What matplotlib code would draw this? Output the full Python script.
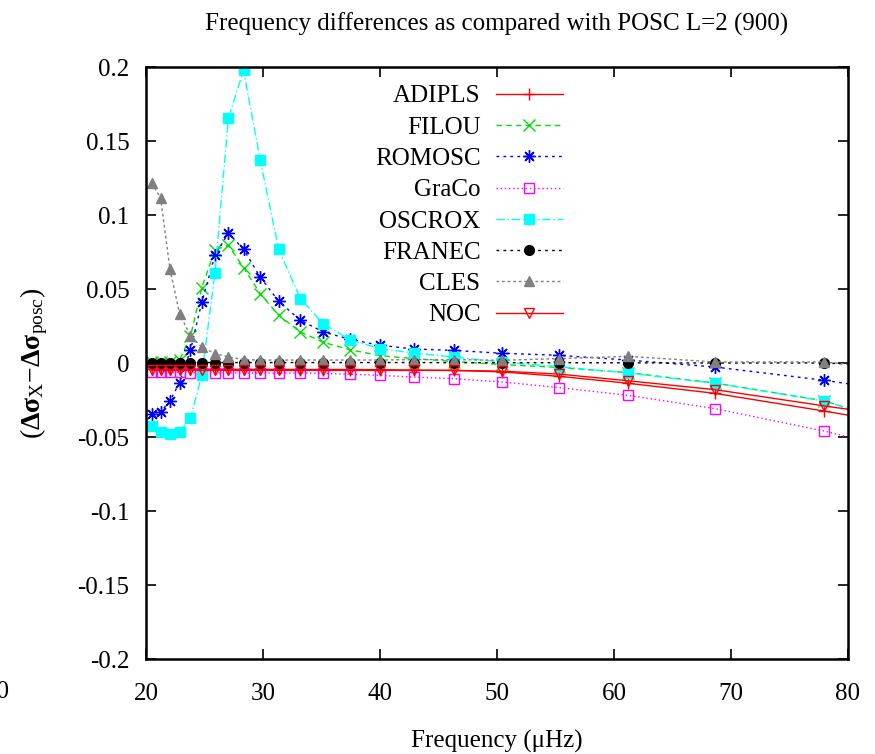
import matplotlib
matplotlib.use("Agg")
import matplotlib.pyplot as plt
from matplotlib.ticker import FormatStrFormatter

plt.rcParams["font.family"] = ["Liberation Serif", "DejaVu Serif"]
plt.rcParams["mathtext.fontset"] = "custom"
plt.rcParams["mathtext.rm"] = "Liberation Serif"
plt.rcParams["mathtext.it"] = "Liberation Serif:italic"
plt.rcParams["mathtext.bf"] = "Liberation Serif:bold"
plt.rcParams["axes.unicode_minus"] = False

# ---- Data, last point lies beyond the x range
freq = [20.49, 21.25, 22.04, 22.87, 23.80, 24.77, 25.90, 27.04, 28.34, 29.76,
        31.34, 33.19, 35.15, 37.42, 39.97, 42.89, 46.32, 50.41, 55.29, 61.19,
        68.62, 77.98, 89.5]

adipls = [-0.0042, -0.0042, -0.0042, -0.0042, -0.0042, -0.0042, -0.0042, -0.0043,
          -0.0043, -0.0043, -0.0043, -0.0044, -0.0044, -0.0044, -0.0045, -0.0048,
          -0.0050, -0.0060, -0.0090, -0.0137, -0.0205, -0.0325, -0.0480]
filou = [0.0010, 0.0010, 0.0010, 0.0020, 0.0180, 0.0510, 0.0766, 0.0795, 0.0645,
         0.0469, 0.0322, 0.0210, 0.0140, 0.0090, 0.0050, 0.0030, 0.0010, -0.0010,
         -0.0030, -0.0065, -0.0135, -0.0255, -0.0550]
romosc = [-0.0342, -0.0331, -0.0257, -0.0132, 0.0086, 0.0412, 0.0728, 0.0878,
          0.0768, 0.0581, 0.0417, 0.0289, 0.0210, 0.0160, 0.0120, 0.0095, 0.0085,
          0.0066, 0.0052, 0.0020, -0.0027, -0.0117, -0.0250]
graco = [-0.0060, -0.0060, -0.0062, -0.0063, -0.0065, -0.0065, -0.0066, -0.0067,
         -0.0068, -0.0068, -0.0068, -0.0068, -0.0070, -0.0076, -0.0083, -0.0095,
         -0.0106, -0.0128, -0.0166, -0.0218, -0.0308, -0.0460, -0.0680]
oscrox = [-0.0426, -0.0466, -0.0477, -0.0466, -0.0372, -0.0083, 0.0611, 0.1655,
          0.1977, 0.1372, 0.0770, 0.0435, 0.0265, 0.0158, 0.0097, 0.0068, 0.0040,
          0.0007, -0.0025, -0.0068, -0.0137, -0.0257, -0.0550]
franec = [0.0003, 0.0003, 0.0003, 0.0003, 0.0003, 0.0003, 0.0003, 0.0003, 0.0003,
          0.0003, 0.0003, 0.0003, 0.0003, 0.0003, 0.0003, 0.0003, 0.0002, 0.0002,
          0.0002, 0.0001, 0.0000, 0.0000, -0.0040]
cles = [0.1216, 0.1115, 0.0638, 0.0334, 0.0182, 0.0108, 0.0063, 0.0041, 0.0023,
        0.0020, 0.0020, 0.0020, 0.0020, 0.0020, 0.0020, 0.0023, 0.0023, 0.0018,
        0.0030, 0.0045, 0.0007, 0.0007, -0.0080]
noc = [-0.0050, -0.0050, -0.0050, -0.0050, -0.0050, -0.0050, -0.0050, -0.0050,
       -0.0050, -0.0050, -0.0050, -0.0050, -0.0050, -0.0050, -0.0050, -0.0050,
       -0.0050, -0.0055, -0.0075, -0.0120, -0.0180, -0.0290, -0.0420]

series = [
    ("ADIPLS", adipls, dict(color="#ff0000", ls="-", marker="+", ms=8, mfc="none")),
    ("FILOU", filou, dict(color="#00e000", ls=(0, (4, 3)), marker="x", ms=8)),
    ("ROMOSC", romosc, dict(color="#0000ff", ls=(0, (2, 3)), marker=(8, 2, 0), ms=9)),
    ("GraCo", graco, dict(color="#ff00ff", ls=(0, (1, 2)), marker="s", ms=7, mfc="none")),
    ("OSCROX", oscrox, dict(color="#00ffff", ls=(0, (6, 2, 1, 2)), marker="s", ms=7)),
    ("FRANEC", franec, dict(color="black", ls=(0, (2, 3)), marker="o", ms=7)),
    ("CLES", cles, dict(color="#808080", ls=(0, (2, 2)), marker="^", ms=7)),
    ("NOC", noc, dict(color="#ff0000", ls="-", marker="v", ms=7, mfc="none")),
]

fig = plt.figure(figsize=(8.75, 7.54), dpi=100)
ax = fig.add_axes([146 / 875, 1 - 659 / 754, 702 / 875, 592 / 754])

for name, vals, st in series:
    ax.plot(freq, vals, label=name, lw=1.0, mew=1.0, **st)

ax.set_xlim(20, 80)
ax.set_ylim(-0.2, 0.2)
ax.set_xticks([20, 30, 40, 50, 60, 70, 80])
ax.set_yticks([-0.2, -0.15, -0.1, -0.05, 0, 0.05, 0.1, 0.15, 0.2])
ax.yaxis.set_major_formatter(FormatStrFormatter("%g"))
ax.tick_params(direction="in", top=True, right=True, length=7, width=1.2,
               labelsize=18)
ax.tick_params(axis="x", pad=17)
ax.tick_params(axis="y", pad=12)
for sp in ax.spines.values():
    sp.set_linewidth(1.8)

ax.set_title("Frequency differences as compared with POSC L=2 (900)",
             fontsize=18, pad=26)
ax.set_xlabel("Frequency (μHz)", fontsize=18, labelpad=18)
ax.set_ylabel(r"$(\mathbf{\Delta\sigma}_{\mathrm{X}}\mathrm{-}\mathbf{\Delta\sigma}_{\mathrm{posc}})$",
              fontsize=20, labelpad=20)

# clipped tick label at the far left edge, as in the original
fig.text(0.011, 1 - 692 / 754, "10", ha="right", va="center", fontsize=18)

leg = ax.legend(loc="upper right", bbox_to_anchor=(563 / 875, 1 - 85 / 754),
                bbox_transform=fig.transFigure, frameon=False, markerfirst=False,
                fontsize=18, handlelength=2.7, handletextpad=0.6,
                labelspacing=0.35, borderpad=0, borderaxespad=0)

fig.savefig("out.png", dpi=100)
